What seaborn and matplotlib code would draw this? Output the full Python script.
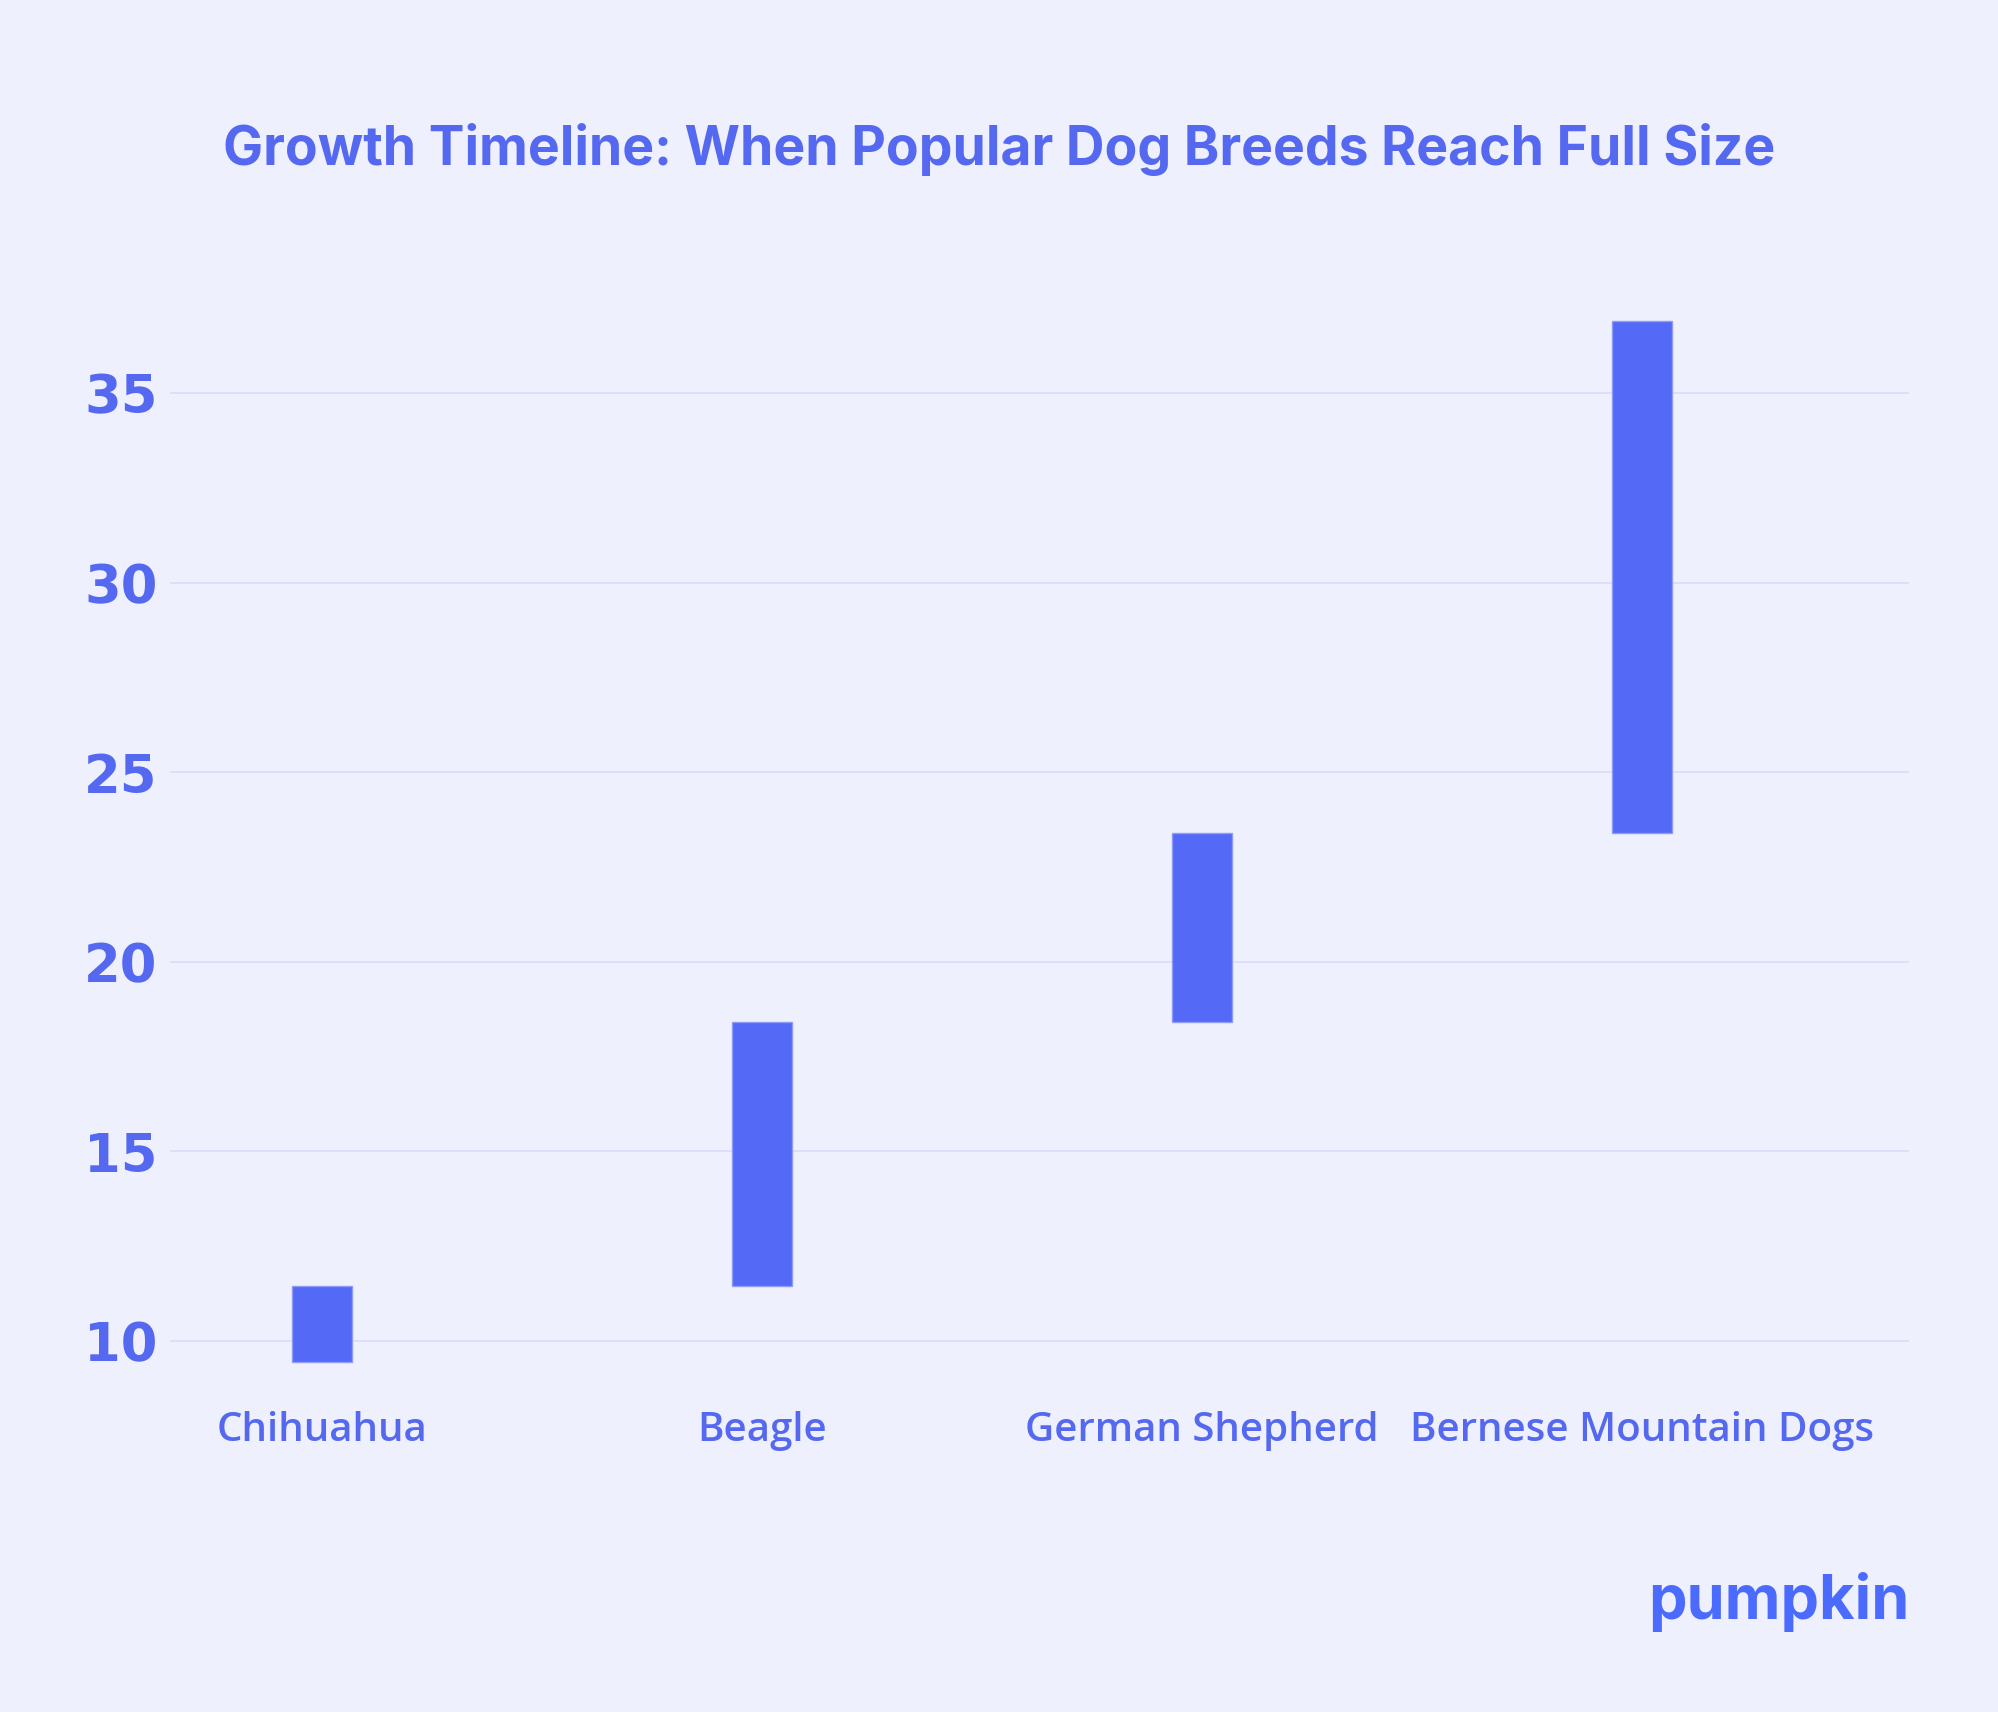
import seaborn as sns
import matplotlib.pyplot as plt
import pandas as pd

# Datos: edad (meses) en que cada raza alcanza su tamaño completo
breeds = ["Chihuahua", "Beagle", "German Shepherd", "Bernese Mountain Dogs"]
start_month = [9.45, 11.45, 18.4, 23.4]
end_month = [11.45, 18.4, 23.4, 36.9]
y_ticks = [10, 15, 20, 25, 30, 35]

title = "Growth Timeline: When Popular Dog Breeds Reach Full Size"

BG = "#EEF0FD"
BAR = "#5469F6"
TEXT = "#5468F0"
GRID = "#DCDFFA"

df = pd.DataFrame({"breed": breeds, "start": start_month, "end": end_month})
df["span"] = df["end"] - df["start"]

sns.set_theme(style="white")
plt.rcParams["font.family"] = ["Inter", "DejaVu Sans"]

fig = plt.figure(figsize=(19.99, 17.12), dpi=100, facecolor=BG)
ax = fig.add_axes([0.08504, 0.1946, 0.8699, 0.6423])
ax.set_facecolor(BG)

sns.barplot(data=df, x="breed", y="span", bottom=df["start"].values,
            order=breeds, color=BAR, saturation=1, width=0.136,
            edgecolor="#8E9BF8", linewidth=1.0, ax=ax, zorder=3)

ax.set_ylim(9, 38)
ax.set_xlim(-0.3455, 3.607)
ax.set_yticks(y_ticks)
ax.set_yticklabels([str(t) for t in y_ticks])
for lab in ax.get_yticklabels():
    lab.set_fontfamily(["DejaVu Sans"])
    lab.set_fontweight("bold")
    lab.set_fontsize(38)
    lab.set_color(TEXT)
for lab in ax.get_xticklabels():
    lab.set_fontfamily(["Open Sans", "DejaVu Sans"])
    lab.set_fontweight("semibold")
    lab.set_fontsize(29)
    lab.set_color(TEXT)

ax.tick_params(axis="y", length=0, pad=9)
ax.tick_params(axis="x", length=0, pad=23)
ax.grid(axis="y", color=GRID, linewidth=1.4, zorder=0)
ax.grid(axis="x", visible=False)
ax.set_axisbelow(True)
sns.despine(ax=ax, left=True, bottom=True)
ax.set_xlabel("")
ax.set_ylabel("")

fig.text(0.5, 0.9124, title, ha="center", va="center", fontsize=38.5,
         fontweight="bold", color=TEXT)
fig.text(0.955, 1 - 1619 / 1712, "pumpkin", ha="right", va="baseline",
         fontsize=44, fontweight="bold", color="#4B6BFF")

plt.savefig("out.png", dpi=100, facecolor=BG)
plt.close()
